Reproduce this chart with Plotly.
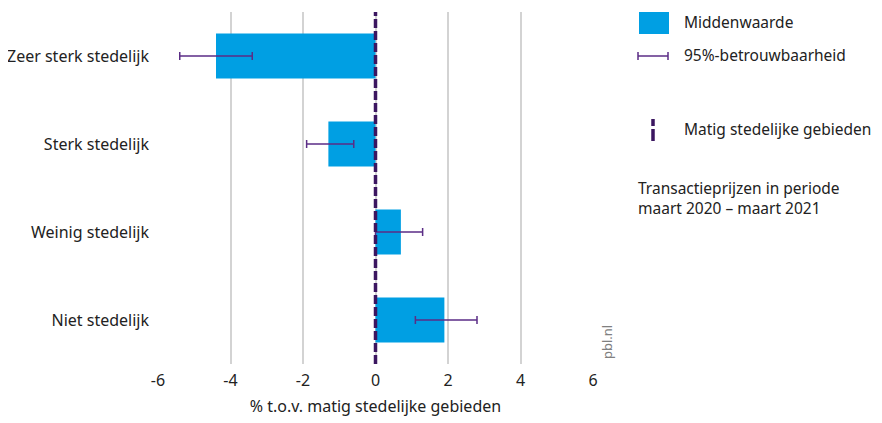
import plotly.graph_objects as go

categories = ["Zeer sterk stedelijk", "Sterk stedelijk", "Weinig stedelijk", "Niet stedelijk"]
middenwaarde = [-4.4, -1.3, 0.7, 1.9]
err_plus = [1.0, 0.7, 0.6, 0.9]
err_minus = [1.0, 0.6, 0.7, 0.8]
x_ticks = [-6, -4, -2, 0, 2, 4, 6]
reference_x = 0

FONT = "Noto Sans"
BLUE = "#009FE3"
PURPLE = "#5B2D86"
DARK_PURPLE = "#3B1660"
TXT = "#222222"

# page has an 8px body margin; work in screen coordinates and subtract it
OFF = 8
W, H = 882 - OFF, 423 - OFF
L, T = 158 - OFF, 12 - OFF
PW, PH = 435, 352
R, B = W - L - PW, H - T - PH

fig = go.Figure()
fig.add_trace(go.Bar(
    y=categories, x=middenwaarde, orientation="h",
    marker=dict(color=BLUE, line=dict(width=0)),
    width=0.51,
    error_x=dict(type="data", array=err_plus, arrayminus=err_minus, symmetric=False,
                 color=PURPLE, thickness=1.5, width=4),
    showlegend=False,
))

fig.add_shape(type="line", xref="x", yref="paper", x0=reference_x, x1=reference_x, y0=0, y1=1,
              line=dict(color=DARK_PURPLE, width=3.5, dash="9px,3px"))

px = lambda v: (v - 158) / PW
py = lambda v: (12 + PH - v) / PH

# legend (manual)
fig.add_shape(type="rect", xref="paper", yref="paper", x0=px(639), x1=px(669), y0=py(34), y1=py(12),
              fillcolor=BLUE, line=dict(width=0))
ly = py(56)
fig.add_shape(type="line", xref="paper", yref="paper", x0=px(638), x1=px(668), y0=ly, y1=ly,
              line=dict(color=PURPLE, width=1.5))
for xx in (px(638), px(668)):
    fig.add_shape(type="line", xref="paper", yref="paper", x0=xx, x1=xx, y0=ly - 4 / PH, y1=ly + 4 / PH,
                  line=dict(color=PURPLE, width=1.5))
fig.add_shape(type="line", xref="paper", yref="paper", x0=px(653), x1=px(653),
              y0=py(141), y1=py(119),
              line=dict(color=DARK_PURPLE, width=3.5, dash="12px,3px"))

def ann(text, x, y, size=15.5, **kw):
    fig.add_annotation(text=text, xref="paper", yref="paper", x=x, y=y, showarrow=False,
                       xanchor="left", yanchor="middle", font=dict(family=FONT, size=size, color=TXT), **kw)

ann("Middenwaarde", px(682), py(22))
ann("95%-betrouwbaarheid", px(682), py(55))
ann("Matig stedelijke gebieden", px(682), py(129))
ann("Transactieprijzen in periode<br>maart 2020 – maart 2021", px(636), py(198), align="left")
fig.add_annotation(text="pbl.nl", xref="paper", yref="paper", x=px(607), y=py(342), showarrow=False,
                   textangle=-90, xanchor="center", yanchor="middle",
                   font=dict(family=FONT, size=13, color="#808080"))

fig.update_layout(
    width=W, height=H,
    margin=dict(l=L, r=R, t=T, b=B, autoexpand=False),
    paper_bgcolor="white", plot_bgcolor="white",
    font=dict(family=FONT, size=16, color=TXT),
    xaxis=dict(range=[-6, 6], tickvals=x_ticks, ticktext=[str(v) for v in x_ticks],
               showgrid=True, gridcolor="#D3D3D3", gridwidth=1.5, zeroline=False,
               showline=False, ticks="", ticklabelstandoff=5,
               title=dict(text="% t.o.v. matig stedelijke gebieden", font=dict(size=16), standoff=10),
               tickfont=dict(size=16)),
    yaxis=dict(autorange="reversed", categoryorder="array", categoryarray=categories,
               showgrid=False, zeroline=False, showline=False, ticks="", ticklabelstandoff=8,
               tickfont=dict(size=16)),
    bargap=0.49,
)

fig.write_html("out.html")
